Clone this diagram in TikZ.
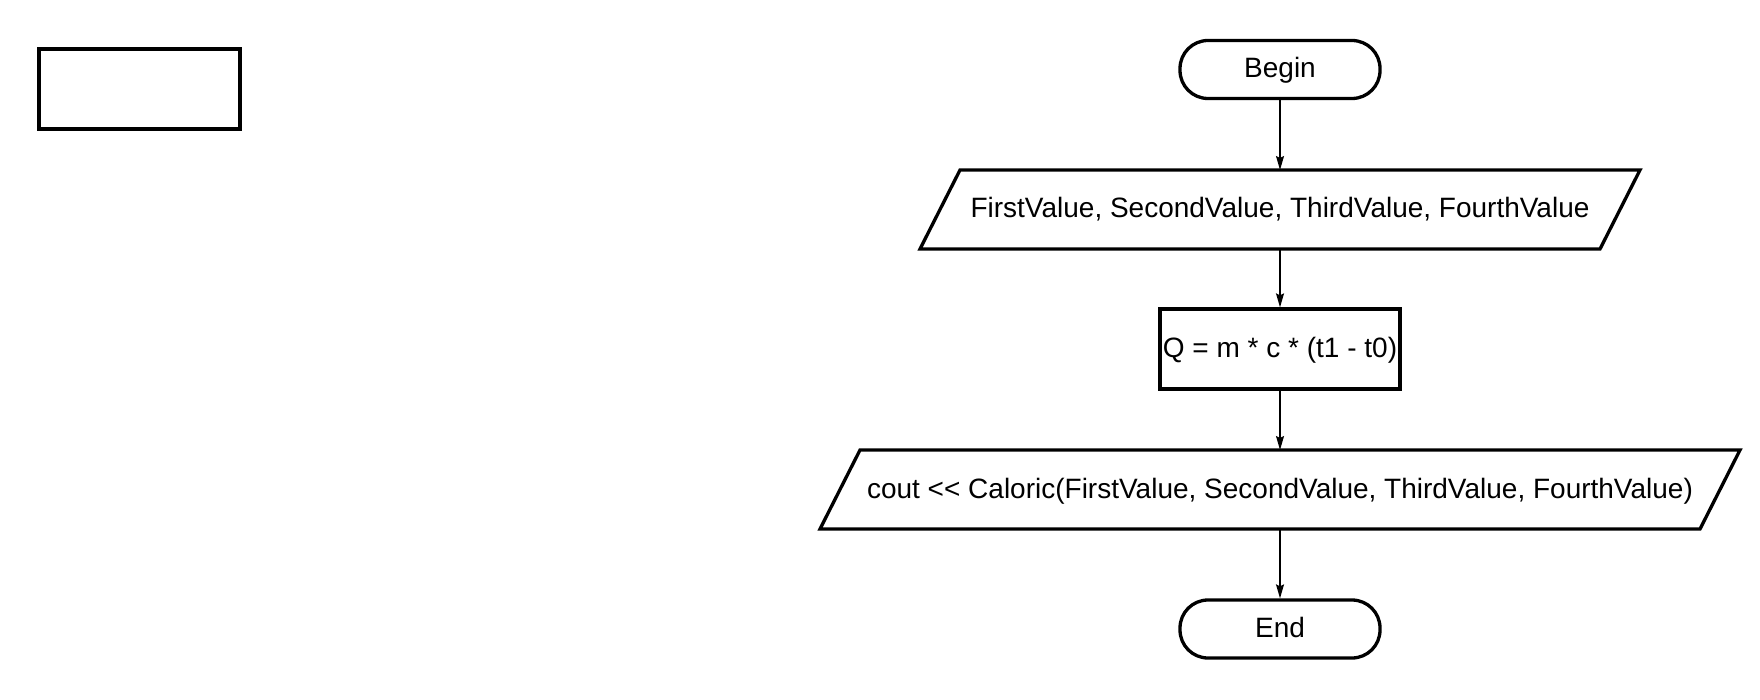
\documentclass[tikz,border=0pt]{standalone}
\usepackage{fontspec}
\setmainfont{Liberation Sans}
\usetikzlibrary{arrows.meta}
\newcommand{\chartfont}{\fontsize{28}{33}\selectfont}

\tikzset{
  every node/.style={text height=20pt, text depth=3pt},
  terminal/.style={draw, line width=3.3pt, rounded corners=28pt, minimum width=200pt, minimum height=58pt, inner sep=0pt, font=\chartfont},
  process/.style={draw, line width=3.3pt, minimum width=240pt, minimum height=80pt, inner sep=0pt, font=\chartfont},
  io/.style={minimum height=79pt, inner sep=0pt, outer sep=0pt, font=\chartfont},
  iobox/.style={draw, line width=3.3pt, line join=miter},
  flow/.style={-{Stealth[length=14pt,width=8pt,inset=2pt]}, line width=1.4pt}
}

\begin{document}
\begin{tikzpicture}[x=1pt,y=-1pt]
\useasboundingbox (0,0) rectangle (1760,700);
\node[process, minimum width=201pt, minimum height=80pt] (blank) at (139.5,89) {};

\node[terminal] (begin) at (1280,69.5) {Begin};
\node[io, minimum width=680pt] (input) at (1280,209.5) {FirstValue, SecondValue, ThirdValue, FourthValue};
\node[process] (calc) at (1280,349) {Q = m * c * (t1 - t0)};
\node[io, minimum width=880pt] (output) at (1280,489.5) {cout {<}{<} Caloric(FirstValue, SecondValue, ThirdValue, FourthValue)};
\node[terminal] (end) at (1280,629) {End};

% parallelograms round the io nodes
\draw[iobox] ([xshift=20pt]input.north west) -- ([xshift=20pt]input.north east)
  -- ([xshift=-20pt]input.south east) -- ([xshift=-20pt]input.south west) -- cycle;
\draw[iobox] ([xshift=20pt]output.north west) -- ([xshift=20pt]output.north east)
  -- ([xshift=-20pt]output.south east) -- ([xshift=-20pt]output.south west) -- cycle;

\draw[flow] (begin) -- (input);
\draw[flow] (input) -- (calc);
\draw[flow] (calc) -- (output);
\draw[flow] (output) -- (end);
\end{tikzpicture}
\end{document}
